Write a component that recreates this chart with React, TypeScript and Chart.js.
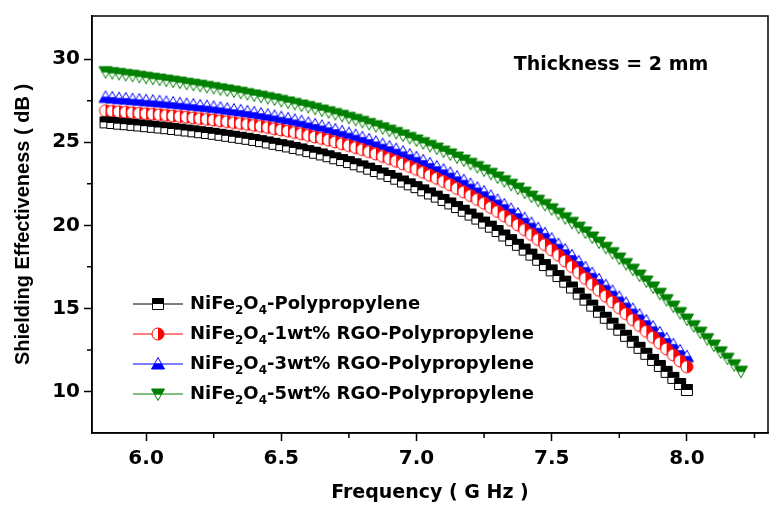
import { useEffect, useRef } from "react";
import { Chart, registerables } from "chart.js";

Chart.register(...registerables);

// ---- data ----
const freqA = [
  5.85, 5.875, 5.9, 5.925, 5.95, 5.975,
  6.0, 6.025, 6.05, 6.075, 6.1, 6.125, 6.15, 6.175, 6.2, 6.225, 6.25, 6.275, 6.3, 6.325, 6.35, 6.375, 6.4, 6.425, 6.45, 6.475,
  6.5, 6.525, 6.55, 6.575, 6.6, 6.625, 6.65, 6.675, 6.7, 6.725, 6.75, 6.775, 6.8, 6.825, 6.85, 6.875, 6.9, 6.925, 6.95, 6.975,
  7.0, 7.025, 7.05, 7.075, 7.1, 7.125, 7.15, 7.175, 7.2, 7.225, 7.25, 7.275, 7.3, 7.325, 7.35, 7.375, 7.4, 7.425, 7.45, 7.475,
  7.5, 7.525, 7.55, 7.575, 7.6, 7.625, 7.65, 7.675, 7.7, 7.725, 7.75, 7.775, 7.8, 7.825, 7.85, 7.875, 7.9, 7.925, 7.95, 7.975,
  8.0,
];
const freqTail = [8.025, 8.05, 8.075, 8.1, 8.125, 8.15, 8.175, 8.2];
const freqG = freqA.concat(freqTail);

const sePP = [
  26.2, 26.16, 26.12, 26.09, 26.05, 26.01, 25.97, 25.93, 25.89, 25.85,
  25.8, 25.76, 25.71, 25.66, 25.61, 25.56, 25.51, 25.45, 25.39, 25.33,
  25.27, 25.21, 25.14, 25.07, 24.99, 24.91, 24.83, 24.75, 24.66, 24.57,
  24.47, 24.37, 24.27, 24.16, 24.04, 23.93, 23.81, 23.68, 23.55, 23.41,
  23.27, 23.12, 22.97, 22.81, 22.64, 22.47, 22.3, 22.11, 21.92, 21.73,
  21.53, 21.32, 21.1, 20.88, 20.65, 20.41, 20.17, 19.92, 19.66, 19.39,
  19.11, 18.83, 18.54, 18.24, 17.93, 17.61, 17.29, 16.95, 16.61, 16.26,
  15.89, 15.53, 15.17, 14.8, 14.44, 14.08, 13.72, 13.35, 12.99, 12.63,
  12.27, 11.9, 11.54, 11.18, 10.82, 10.45, 10.09,
];
const se1wt = [
  26.9, 26.87, 26.84, 26.81, 26.78, 26.75, 26.72, 26.69, 26.66, 26.62,
  26.58, 26.55, 26.51, 26.47, 26.42, 26.38, 26.34, 26.29, 26.24, 26.18,
  26.13, 26.08, 26.02, 25.96, 25.89, 25.81, 25.74, 25.67, 25.59, 25.51,
  25.41, 25.32, 25.23, 25.13, 25.02, 24.91, 24.8, 24.68, 24.56, 24.43,
  24.3, 24.15, 24.01, 23.86, 23.7, 23.54, 23.37, 23.19, 23.01, 22.83,
  22.64, 22.44, 22.22, 22.01, 21.79, 21.56, 21.33, 21.08, 20.83, 20.57,
  20.3, 20.03, 19.74, 19.45, 19.15, 18.84, 18.53, 18.2, 17.86, 17.52,
  17.16, 16.81, 16.46, 16.09, 15.74, 15.39, 15.04, 14.68, 14.32, 13.97,
  13.62, 13.26, 12.91, 12.56, 12.2, 11.84, 11.49,
];
const se3wt = [
  27.7, 27.67, 27.63, 27.61, 27.57, 27.54, 27.5, 27.47, 27.44, 27.4,
  27.36, 27.32, 27.28, 27.24, 27.19, 27.15, 27.1, 27.05, 26.99, 26.94,
  26.89, 26.83, 26.77, 26.7, 26.63, 26.56, 26.48, 26.41, 26.32, 26.24,
  26.14, 26.05, 25.96, 25.85, 25.74, 25.63, 25.52, 25.4, 25.27, 25.14,
  25.0, 24.86, 24.71, 24.56, 24.4, 24.23, 24.07, 23.88, 23.7, 23.51,
  23.32, 23.12, 22.9, 22.69, 22.46, 22.23, 22.0, 21.75, 21.5, 21.23,
  20.96, 20.68, 20.4, 20.11, 19.8, 19.49, 19.17, 18.84, 18.51, 18.16,
  17.8, 17.44, 17.09, 16.72, 16.37, 16.02, 15.66, 15.3, 14.94, 14.59,
  14.24, 13.87, 13.52, 13.16, 12.81, 12.44, 12.09,
];
const se5wt = [
  29.25, 29.19, 29.14, 29.08, 29.03, 28.97, 28.91, 28.85, 28.8, 28.74,
  28.68, 28.62, 28.55, 28.49, 28.43, 28.36, 28.29, 28.22, 28.15, 28.08,
  28.01, 27.93, 27.85, 27.77, 27.69, 27.61, 27.52, 27.43, 27.34, 27.24,
  27.15, 27.05, 26.94, 26.84, 26.73, 26.62, 26.5, 26.38, 26.26, 26.13,
  26.0, 25.87, 25.73, 25.59, 25.44, 25.29, 25.14, 24.98, 24.81, 24.65,
  24.47, 24.3, 24.11, 23.93, 23.73, 23.54, 23.33, 23.13, 22.91, 22.69,
  22.47, 22.24, 22.0, 21.76, 21.51, 21.26, 21.0, 20.73, 20.46, 20.18,
  19.89, 19.6, 19.3, 18.99, 18.68, 18.36, 18.03, 17.7, 17.36, 17.01,
  16.65, 16.29, 15.91, 15.53, 15.14, 14.75, 14.36, 13.96, 13.57, 13.18,
  12.79, 12.39, 12.0, 11.61, 11.22,
];

const seriesLabels = [
  "NiFe₂O₄-Polypropylene",
  "NiFe₂O₄-1wt% RGO-Polypropylene",
  "NiFe₂O₄-3wt% RGO-Polypropylene",
  "NiFe₂O₄-5wt% RGO-Polypropylene",
];
const seriesColors = ["#000000", "#ff0000", "#0000ff", "#008000"];
const seriesMarkers = ["square", "circle", "up", "down"];

const xTicks = [6.0, 6.5, 7.0, 7.5, 8.0];
const xMinor = [6.25, 6.75, 7.25, 7.75, 8.25];
const yTicks = [10, 15, 20, 25, 30];
const yMinor = [12.5, 17.5, 22.5, 27.5];

const annotation = "Thickness = 2 mm";

const FONT = "'DejaVu Sans', 'Liberation Sans', sans-serif";

function makeMarker(kind: string, color: string): HTMLCanvasElement {
  const s = 16;
  const c = document.createElement("canvas");
  c.width = s;
  c.height = s;
  const g = c.getContext("2d")!;
  const path = new Path2D();
  if (kind === "square") {
    path.rect(2.5, 2.5, 11, 11);
  } else if (kind === "circle") {
    path.arc(8, 8, 6, 0, Math.PI * 2);
  } else if (kind === "up") {
    path.moveTo(8, 1.5);
    path.lineTo(14.5, 13);
    path.lineTo(1.5, 13);
    path.closePath();
  } else {
    path.moveTo(1.5, 3);
    path.lineTo(14.5, 3);
    path.lineTo(8, 14.5);
    path.closePath();
  }
  g.fillStyle = "#ffffff";
  g.fill(path);
  g.save();
  g.clip(path);
  g.fillStyle = color;
  if (kind === "square") g.fillRect(0, 0, s, 8);
  else if (kind === "circle") g.fillRect(8, 0, 8, s);
  else if (kind === "up") g.fillRect(0, 7.25, s, s);
  else g.fillRect(0, 0, s, 8.75);
  g.restore();
  g.lineWidth = 1;
  g.strokeStyle = color;
  g.stroke(path);
  return c;
}

function drawRich(ctx: CanvasRenderingContext2D, text: string, x: number, y: number, size: number, subSize: number) {
  const subs = "₀₁₂₃₄₅₆₇₈₉";
  const runs: { t: string; sub: boolean }[] = [];
  for (const ch of text) {
    const k = subs.indexOf(ch);
    const isSub = k >= 0;
    const c = isSub ? String(k) : ch;
    const last = runs[runs.length - 1];
    if (last && last.sub === isSub) last.t += c;
    else runs.push({ t: c, sub: isSub });
  }
  let cx = x;
  ctx.textAlign = "left";
  ctx.textBaseline = "middle";
  for (const r of runs) {
    ctx.font = `bold ${r.sub ? subSize : size}px ${FONT}`;
    ctx.fillText(r.t, cx, r.sub ? y + 7 : y);
    cx += ctx.measureText(r.t).width;
  }
}

export default function App() {
  const ref = useRef<HTMLCanvasElement>(null);

  useEffect(() => {
    document.body.style.margin = "0";
    const canvas = ref.current!;
    const markers = seriesMarkers.map((m, i) => makeMarker(m, seriesColors[i]));
    const seriesY = [sePP, se1wt, se3wt, se5wt];
    const seriesX = [freqA, freqA, freqA, freqG];

    const datasets = seriesY.map((vals, i) => ({
      label: seriesLabels[i],
      data: vals.map((v, j) => ({ x: seriesX[i][j], y: v })),
      borderColor: seriesColors[i],
      backgroundColor: seriesColors[i],
      borderWidth: 1,
      pointStyle: markers[i] as any,
      pointRadius: 7,
      pointHoverRadius: 7,
      tension: 0,
      fill: false,
    }));

    const decor = {
      id: "decor",
      afterDraw(chart: any) {
        const { ctx, chartArea: a, scales } = chart;
        ctx.save();
        ctx.strokeStyle = "#000";
        ctx.lineWidth = 1.5;
        ctx.strokeRect(a.left, a.top, a.right - a.left, a.bottom - a.top);
        ctx.beginPath();
        xMinor.forEach((v) => {
          const px = scales.x.getPixelForValue(v);
          ctx.moveTo(px, a.bottom);
          ctx.lineTo(px, a.bottom + 5);
        });
        yMinor.forEach((v) => {
          const py = scales.y.getPixelForValue(v);
          ctx.moveTo(a.left, py);
          ctx.lineTo(a.left - 5, py);
        });
        ctx.stroke();

        // annotation
        ctx.fillStyle = "#000";
        ctx.font = `bold 19px ${FONT}`;
        ctx.textAlign = "center";
        ctx.textBaseline = "middle";
        ctx.fillText(annotation, 611, 65);

        // legend
        const rows = [304, 334, 364, 394];
        seriesLabels.forEach((lab, i) => {
          const y = rows[i];
          ctx.strokeStyle = seriesColors[i];
          ctx.lineWidth = 1;
          ctx.beginPath();
          ctx.moveTo(133, y);
          ctx.lineTo(183, y);
          ctx.stroke();
          const m = markers[i];
          ctx.drawImage(m, 158 - m.width / 2, y - m.height / 2);
          ctx.fillStyle = "#000";
          drawRich(ctx, lab, 190, y, 18, 12);
        });
        ctx.restore();
      },
    };

    const tickFont = { family: FONT, weight: "bold" as const, size: 20 };

    const chart = new Chart(canvas, {
      type: "line",
      data: { datasets: datasets as any },
      options: {
        animation: false,
        responsive: false,
        layout: { padding: { top: 6, right: 8, left: 0, bottom: 0 } },
        plugins: { legend: { display: false }, tooltip: { enabled: false } },
        scales: {
          x: {
            type: "linear",
            min: 5.8,
            max: 8.3,
            afterBuildTicks: (s: any) => {
              s.ticks = xTicks.map((v) => ({ value: v }));
            },
            afterFit: (s: any) => {
              s.height = 80;
            },
            ticks: {
              callback: (v: any) => Number(v).toFixed(1),
              font: tickFont,
              color: "#000",
              padding: 6,
              maxRotation: 0,
              autoSkip: false,
            },
            grid: { drawOnChartArea: false, drawTicks: true, tickLength: 8, tickWidth: 1.5, tickColor: "#000" },
            border: { display: true, color: "#000", width: 1.5 },
            title: {
              display: true,
              text: "Frequency ( G Hz )",
              color: "#000",
              font: { family: FONT, weight: "bold", size: 19 },
              padding: { top: 0, bottom: 9 },
            },
          },
          y: {
            type: "linear",
            min: 7.5,
            max: 32.6,
            afterBuildTicks: (s: any) => {
              s.ticks = yTicks.map((v) => ({ value: v }));
            },
            afterFit: (s: any) => {
              s.width = 92;
            },
            ticks: {
              callback: (v: any) => String(v),
              font: tickFont,
              color: "#000",
              padding: 4,
              autoSkip: false,
            },
            grid: { drawOnChartArea: false, drawTicks: true, tickLength: 8, tickWidth: 1.5, tickColor: "#000" },
            border: { display: true, color: "#000", width: 1.5 },
            title: {
              display: true,
              text: "Shielding Effectiveness ( dB )",
              color: "#000",
              font: { family: "'Liberation Sans', Arial, sans-serif", weight: "bold", size: 20 },
              padding: { top: 11, bottom: 0 },
            },
          },
        },
      },
      plugins: [decor],
    });
    return () => chart.destroy();
  }, []);

  return (
    <div style={{ width: 776, height: 513, position: "relative" }}>
      <canvas ref={ref} width={776} height={513} style={{ display: "block" }} />
    </div>
  );
}
